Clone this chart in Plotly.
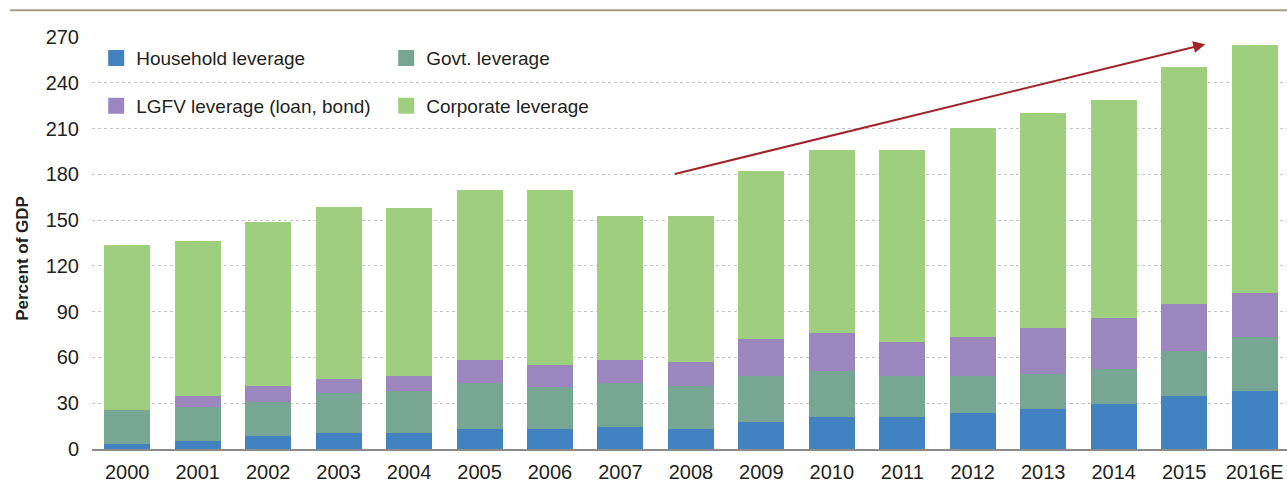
import plotly.graph_objects as go

years = ["2000", "2001", "2002", "2003", "2004", "2005", "2006", "2007", "2008",
         "2009", "2010", "2011", "2012", "2013", "2014", "2015", "2016E"]
household = [3.0, 5.5, 8.2, 10.8, 10.8, 13.4, 13.4, 14.7, 13.4, 18.0, 21.3, 21.3, 23.9, 25.9, 29.8, 35.0, 38.3]
govt = [22.8, 22.3, 22.9, 25.7, 27.5, 30.1, 27.5, 28.8, 28.2, 30.1, 30.1, 26.8, 24.2, 23.5, 22.9, 29.5, 35.3]
lgfv = [0.0, 7.2, 10.5, 9.6, 9.8, 15.1, 14.4, 15.1, 15.7, 24.2, 24.8, 22.3, 25.5, 30.1, 33.4, 30.7, 28.8]
corporate = [108.2, 101.5, 107.4, 112.6, 110.1, 110.9, 114.2, 94.1, 95.2, 110.1, 119.8, 125.6, 136.9, 141.0, 142.9, 155.3, 162.4]
y_ticks = [0, 30, 60, 90, 120, 150, 180, 210, 240, 270]

FONT = "Liberation Sans Narrow, Arial Narrow, Liberation Sans, Arial, sans-serif"
TXT = "#231f20"

series = [
    ("Household leverage", household, "#4282c1", "legend"),
    ("Govt. leverage", govt, "#77a794", "legend"),
    ("LGFV leverage (loan, bond)", lgfv, "#9b87bd", "legend2"),
    ("Corporate leverage", corporate, "#9dcf7f", "legend2"),
]

fig = go.Figure()
for name, vals, col, leg in series:
    fig.add_trace(go.Bar(x=years, y=vals, name=name, marker=dict(color=col, line=dict(width=0)),
                         showlegend=False, legendgroup=name))
# legend entries with larger square swatches
for name, vals, col, leg in series:
    fig.add_trace(go.Scatter(x=[None], y=[None], mode="markers", name=name, legend=leg,
                             legendgroup=name,
                             marker=dict(symbol="square", size=16, color=col, line=dict(width=0))))

legend_common = dict(orientation="h", bgcolor="rgba(0,0,0,0)", font=dict(family=FONT, size=19, color=TXT),
                     entrywidth=245, entrywidthmode="pixels", xanchor="left", yanchor="middle",
                     traceorder="normal", itemclick=False, itemsizing="trace")

fig.update_layout(
    width=1287, height=493,
    margin=dict(l=92, r=0, t=37, b=43.5),
    paper_bgcolor="white", plot_bgcolor="white",
    barmode="stack", bargap=0.347,
    font=dict(family=FONT, size=20, color=TXT),
    legend=dict(x=0.0035, y=0.9486, **legend_common),
    legend2=dict(x=0.0035, y=0.833, **legend_common),
    xaxis=dict(range=[-0.5, 16.46], showgrid=False, showline=True, linecolor="rgba(110,110,110,0.8)",
               linewidth=2, ticks="", tickfont=dict(family=FONT, size=20, color=TXT),
               ticklabelstandoff=4, fixedrange=True),
    yaxis=dict(range=[0, 270], tickvals=y_ticks, showgrid=True, gridcolor="#c4c4c4", griddash="dot",
               gridwidth=1, zeroline=False, showline=False, ticks="",
               tickfont=dict(family=FONT, size=20, color=TXT), ticklabelstandoff=12, fixedrange=True),
    showlegend=True,
)

# y-axis title (placed as in the reference, slightly below the plot's centre)
fig.add_annotation(text="<b>Percent of GDP</b>", xref="paper", yref="paper", x=-0.0577, y=0.4618,
                   textangle=-90, showarrow=False, xanchor="center", yanchor="middle",
                   font=dict(family=FONT, size=17, color=TXT))

# trend arrow
fig.add_annotation(x=15.3, y=265.3, ax=7.75, ay=180, xref="x", yref="y", axref="x", ayref="y",
                   text="", showarrow=True, arrowhead=2, arrowsize=1.2, arrowwidth=2,
                   arrowcolor="#a3232a", standoff=0, startstandoff=0)

# top rule
fig.add_shape(type="line", xref="paper", yref="paper", x0=-0.0686, x1=1.0, y0=1.0647, y1=1.0647,
              line=dict(color="#a89a86", width=2))

fig.write_html("out.html", config={"displayModeBar": False},
               post_script="document.body.style.margin='0';")
